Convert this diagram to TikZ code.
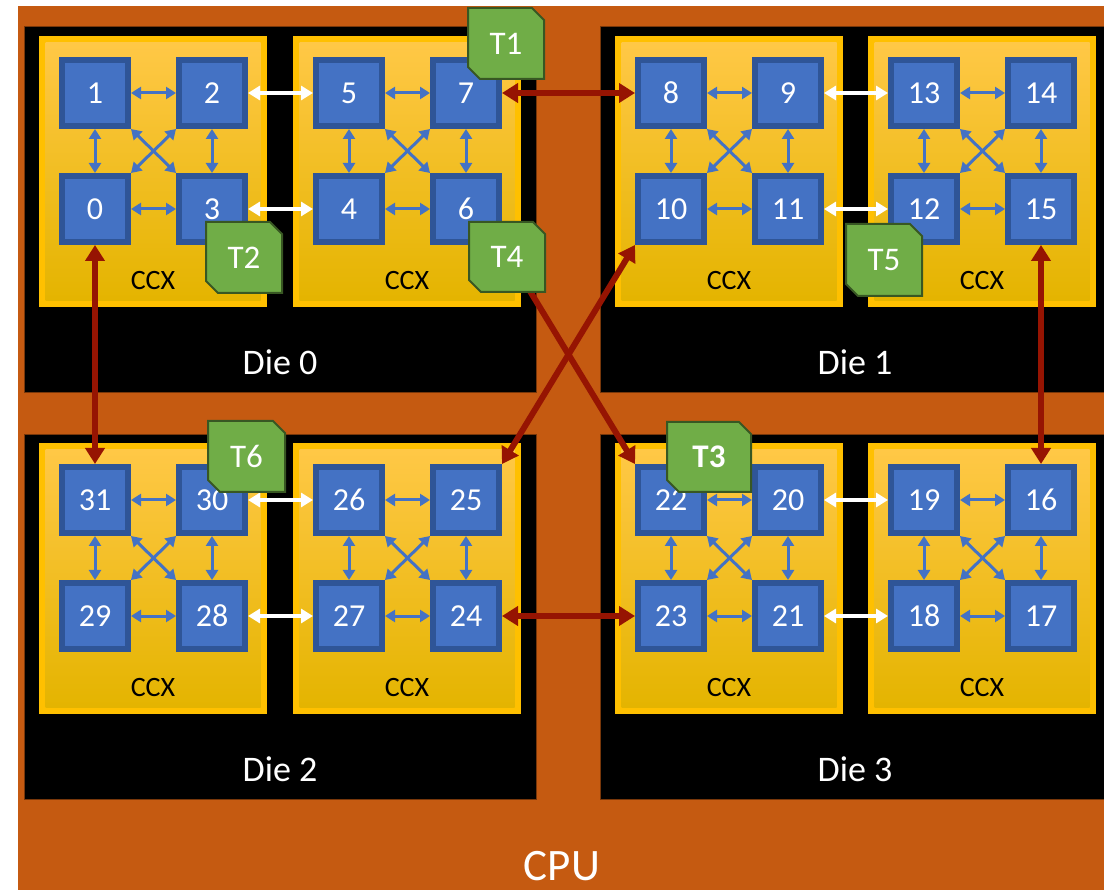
\documentclass[tikz,border=0pt]{standalone}
\usepackage{fontspec}
\setmainfont{Carlito}
\usetikzlibrary{arrows.meta}
\definecolor{cpuor}{RGB}{197,90,17}
\definecolor{sqfill}{RGB}{68,114,196}
\definecolor{sqborder}{RGB}{47,85,151}
\definecolor{ccxouter}{RGB}{255,192,0}
\definecolor{ccxtop}{RGB}{255,200,70}
\definecolor{ccxmid}{RGB}{255,194,10}
\definecolor{ccxbot}{RGB}{228,180,0}
\definecolor{redarr}{RGB}{150,20,2}
\definecolor{tagfill}{RGB}{112,173,71}
\definecolor{tagborder}{RGB}{56,87,35}
\definecolor{dieedge}{RGB}{120,55,10}

\tikzset{
 sq/.style={draw=sqborder, fill=sqfill, line width=6pt, minimum size=66pt, inner sep=0pt, text=white, font=\fontsize{32}{36}\selectfont},
 bluearr/.style={draw=sqfill, line width=3pt, {Triangle[width=12pt,length=10pt]}-{Triangle[width=12pt,length=10pt]}},
 whitearr/.style={draw=white, line width=4pt, {Triangle[width=14pt,length=12pt]}-{Triangle[width=14pt,length=12pt]}},
 redarrow/.style={draw=redarr, line width=6pt, {Triangle[width=19pt,length=16pt]}-{Triangle[width=19pt,length=16pt]}},
 tagshape/.style={fill=tagfill, draw=tagborder, line width=2pt},
 tagtext/.style={text=white, inner sep=0pt, font=\fontsize{33}{36}\selectfont},
 ccxlabel/.style={text=black, inner sep=0pt, font=\fontsize{28}{32}\selectfont},
 dielabel/.style={text=white, inner sep=0pt, font=\fontsize{36}{40}\selectfont},
 cpulabel/.style={text=white, inner sep=0pt, anchor=base, font=\fontsize{45}{50}\selectfont},
 diebox/.style={fill=black, draw=dieedge, line width=0.8pt},
}

% x, y (top-left of CCX), TL, TR, BL, BR
\newcommand\drawccx[6]{%
  \fill[ccxouter] (#1,#2) rectangle ++(228,271);
  \shade[top color=ccxtop, middle color=ccxmid, bottom color=ccxbot] (#1+6.5,#2+6.5) rectangle ++(215,258);
  \node[sq] (n#3) at (#1+56,#2+57) {#3};
  \node[sq] (n#4) at (#1+173,#2+57) {#4};
  \node[sq] (n#5) at (#1+56,#2+173) {#5};
  \node[sq] (n#6) at (#1+173,#2+173) {#6};
  \draw[bluearr] (n#3.east) -- (n#4.west);
  \draw[bluearr] (n#5.east) -- (n#6.west);
  \draw[bluearr] (n#3.south) -- (n#5.north);
  \draw[bluearr] (n#4.south) -- (n#6.north);
  \draw[bluearr] (n#3.south east) -- (n#6.north west);
  \draw[bluearr] (n#4.south west) -- (n#5.north east);
  \node[ccxlabel] (ccx#3) at (#1+114,#2+245) {CCX};
}

% name, x1, y1, x2, y2, text
\newcommand\drawtag[6]{%
  \path[tagshape] (#2,#3) -- (#4-12,#3) -- (#4,#3+12) -- (#4,#5) -- (#2+12,#5) -- (#2,#5-12) -- cycle;
  \node[tagtext] (#1) at ({(#2+#4)/2},{(#3+#5)/2}) {#6};
}

\begin{document}
\begin{tikzpicture}[x=1pt,y=-1pt]
\useasboundingbox (0,0) rectangle (1104,890);
\fill[white] (0,0) rectangle (1104,890);
\fill[cpuor] (18,6) rectangle (1104,890);

% dies
\path[diebox] (24,26) rectangle (536,392);
\path[diebox] (600,26) rectangle (1110,392);
\path[diebox] (24,434) rectangle (536,799);
\path[diebox] (600,434) rectangle (1110,799);
\node[dielabel] (die0) at (280,362) {Die 0};
\node[dielabel] (die1) at (855,362) {Die 1};
\node[dielabel] (die2) at (280,769) {Die 2};
\node[dielabel] (die3) at (855,769) {Die 3};

% CCX blocks
\drawccx{39}{36}{1}{2}{0}{3}
\drawccx{293}{36}{5}{7}{4}{6}
\drawccx{615}{36}{8}{9}{10}{11}
\drawccx{868}{36}{13}{14}{12}{15}
\drawccx{39}{443}{31}{30}{29}{28}
\drawccx{293}{443}{26}{25}{27}{24}
\drawccx{615}{443}{22}{20}{23}{21}
\drawccx{868}{443}{19}{16}{18}{17}

% intra-die links
\draw[whitearr] (n2.east) -- (n5.west);
\draw[whitearr] (n3.east) -- (n4.west);
\draw[whitearr] (n9.east) -- (n13.west);
\draw[whitearr] (n11.east) -- (n12.west);
\draw[whitearr] (n30.east) -- (n26.west);
\draw[whitearr] (n28.east) -- (n27.west);
\draw[whitearr] (n20.east) -- (n19.west);
\draw[whitearr] (n21.east) -- (n18.west);

% inter-die links
\draw[redarrow] (n7.east) -- (n8.west);
\draw[redarrow] (n0.south) -- (n31.north);
\draw[redarrow] (n15.south) -- (n16.north);
\draw[redarrow] (n24.east) -- (n23.west);
\draw[redarrow] (n6.south east) -- (n22.north west);
\draw[redarrow] (n10.south west) -- (n25.north east);

% tags
\drawtag{t1}{468}{8}{544}{79}{T1}
\drawtag{t2}{206}{222}{282}{293}{T2}
\drawtag{t4}{469}{222}{545}{292}{T4}
\drawtag{t5}{846}{224}{922}{296}{T5}
\drawtag{t6}{208}{421}{285}{492}{T6}
\drawtag{t3}{667}{422}{751}{492}{\bfseries T3}

\node[cpulabel] (cpu) at (562,880) {CPU};
\end{tikzpicture}
\end{document}
